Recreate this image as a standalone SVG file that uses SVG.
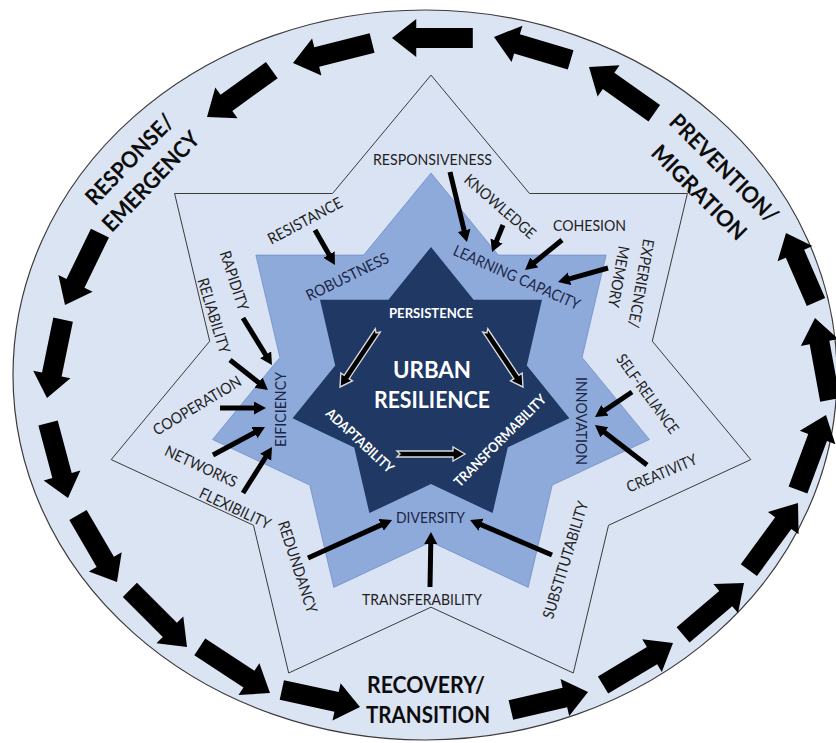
<svg xmlns="http://www.w3.org/2000/svg" xmlns:xlink="http://www.w3.org/1999/xlink" width="836" height="743" viewBox="0 0 836 743">
<style>
.lab{font-family:Lato,"Open Sans","Liberation Sans",sans-serif;font-size:22.5px;font-weight:bold;fill:#0d0d0d;text-anchor:middle}
.w{font-family:Lato,"Open Sans","Liberation Sans",sans-serif;font-size:15.5px;fill:#1f1f1f;text-anchor:middle}
.m{font-family:Lato,"Open Sans","Liberation Sans",sans-serif;font-size:15.5px;fill:#1b2644;text-anchor:middle}
.c{font-family:Lato,"Open Sans","Liberation Sans",sans-serif;font-size:14px;font-weight:bold;fill:#ffffff;text-anchor:middle}
.cb{font-family:Lato,"Open Sans","Liberation Sans",sans-serif;font-size:22px;font-weight:bold;fill:#ffffff;text-anchor:middle}
.blk{fill:#000}
.ia{fill:#000;stroke:#d9d9d9;stroke-width:1.4;stroke-linejoin:miter}
.sa{stroke:#000;stroke-width:5;fill:none;marker-end:url(#ah)}
</style>
<defs>
<path id="ba" d="M-80,-10 H-24 V-19 L0,0 L-24,19 V10 H-80 Z"/>
<path id="ia" d="M-68,-3 H-12 V-7 L0,0 L-12,7 V3 H-68 L-65,0 Z"/>
<marker id="ah" markerUnits="userSpaceOnUse" markerWidth="14" markerHeight="14" refX="2" refY="6.5" orient="auto"><path d="M0,0 L12,6.5 L0,13 Z" fill="#000"/></marker>
</defs>
<rect width="836" height="743" fill="#ffffff"/>
<g id="ring"><ellipse cx="425" cy="375" rx="412" ry="365" fill="#dbe4f2" stroke="#3c3c3c" stroke-width="1.2"/></g>
<g id="star-outer"><polygon points="431,75.1 529.5,193.5 687.4,193.5 652.3,341.2 750.8,459.6 608.5,525.3 573.3,673 431,607.2 288.7,673 253.5,525.3 111.2,459.6 209.7,341.2 174.6,193.5 332.5,193.5" fill="#dae3f3" stroke="#3a3a3a" stroke-width="1"/></g>
<g id="star-middle"><polygon points="431,173 498.3,255.1 606.1,255.1 582.1,357.4 649.4,439.5 552.2,485.1 528.2,587.4 431,541.9 333.8,587.4 309.8,485.1 212.6,439.5 279.9,357.4 255.9,255.1 363.7,255.1" fill="#8eaadb" stroke="#6f8ec8" stroke-width="0.8"/></g>
<g id="star-inner"><polygon points="431,247 473.6,299.7 542,299.7 526.8,365.4 569.4,418.2 507.8,447.4 492.6,513.1 431,483.9 369.4,513.1 354.2,447.4 292.6,418.2 335.2,365.4 320,299.7 388.4,299.7" fill="#1f3864"/></g>
<g id="connectors">
<g id="cycle">
<use xlink:href="#ba" class="blk" transform="translate(392,38) rotate(180) scale(1.01,1)"/>
<use xlink:href="#ba" class="blk" transform="translate(293,63) rotate(165.8) scale(1.02,1)"/>
<use xlink:href="#ba" class="blk" transform="translate(207,117) rotate(144.1)"/>
<use xlink:href="#ba" class="blk" transform="translate(65,305) rotate(115.9)"/>
<use xlink:href="#ba" class="blk" transform="translate(47,398) rotate(101.6)"/>
<use xlink:href="#ba" class="blk" transform="translate(68,498) rotate(75.1) scale(0.97,1)"/>
<use xlink:href="#ba" class="blk" transform="translate(117,582) rotate(59.8) scale(0.97,1)"/>
<use xlink:href="#ba" class="blk" transform="translate(187,647) rotate(45) scale(1.01,1)"/>
<use xlink:href="#ba" class="blk" transform="translate(270,693) rotate(33.3) scale(1.05,1)"/>
<use xlink:href="#ba" class="blk" transform="translate(360,707) rotate(12.3)"/>
<use xlink:href="#ba" class="blk" transform="translate(588,692) rotate(-13.2) scale(0.99,1)"/>
<use xlink:href="#ba" class="blk" transform="translate(673,643) rotate(-31) scale(1.02,1)"/>
<use xlink:href="#ba" class="blk" transform="translate(744,583) rotate(-40.4)"/>
<use xlink:href="#ba" class="blk" transform="translate(798,503) rotate(-53.8) scale(1.04,1)"/>
<use xlink:href="#ba" class="blk" transform="translate(826,415) rotate(-69.5)"/>
<use xlink:href="#ba" class="blk" transform="translate(815,318) rotate(-100.4) scale(1.04,1)"/>
<use xlink:href="#ba" class="blk" transform="translate(786,233) rotate(-113.5) scale(0.94,1)"/>
<use xlink:href="#ba" class="blk" transform="translate(589,67) rotate(-144.7)"/>
<use xlink:href="#ba" class="blk" transform="translate(494,37) rotate(-163.4)"/>
</g>
<g id="inner-arrows">
<use xlink:href="#ia" class="ia" transform="translate(340,387) rotate(123.7)"/>
<use xlink:href="#ia" class="ia" transform="translate(523,387) rotate(56.3)"/>
<use xlink:href="#ia" class="ia" transform="translate(465,454)"/>
</g>
<g id="small-arrows">
<line class="sa" x1="450" y1="172" x2="464.6" y2="232.3"/>
<line class="sa" x1="503" y1="225" x2="495.8" y2="242.8"/>
<line class="sa" x1="562" y1="240" x2="532.8" y2="263.7"/>
<line class="sa" x1="608" y1="268" x2="567.6" y2="279.3"/>
<line class="sa" x1="315" y1="230" x2="330" y2="256.3"/>
<line class="sa" x1="243" y1="318" x2="266.7" y2="356.5"/>
<line class="sa" x1="230" y1="360" x2="260.1" y2="383.8"/>
<line class="sa" x1="220" y1="408" x2="256" y2="408"/>
<line class="sa" x1="213" y1="455" x2="256.2" y2="431.7"/>
<line class="sa" x1="243" y1="493" x2="266.7" y2="455.5"/>
<line class="sa" x1="308" y1="558" x2="382.9" y2="524.1"/>
<line class="sa" x1="430" y1="587" x2="430.8" y2="542"/>
<line class="sa" x1="552" y1="555" x2="479.2" y2="523.9"/>
<line class="sa" x1="632" y1="392" x2="603.3" y2="411.4"/>
<line class="sa" x1="647" y1="465" x2="602.9" y2="431.1"/>
</g>
</g>
<g id="n-response"><text class="lab" transform="translate(135.3,165) rotate(-46)" textLength="116" lengthAdjust="spacingAndGlyphs">RESPONSE/</text><text class="lab" transform="translate(156.5,186.9) rotate(-46)" textLength="129" lengthAdjust="spacingAndGlyphs">EMERGENCY</text></g>
<g id="n-prevention"><text class="lab" transform="translate(718.3,173.9) rotate(45)" textLength="143" lengthAdjust="spacingAndGlyphs">PREVENTION/</text><text class="lab" transform="translate(693.5,198.1) rotate(45)" textLength="124" lengthAdjust="spacingAndGlyphs">MIGRATION</text></g>
<g id="n-recovery"><text class="lab" x="426" y="693" textLength="118" lengthAdjust="spacingAndGlyphs">RECOVERY/</text><text class="lab" x="428" y="723" textLength="124" lengthAdjust="spacingAndGlyphs">TRANSITION</text></g>
<g id="n-responsiveness"><text class="w" x="432.5" y="165" textLength="119" lengthAdjust="spacingAndGlyphs">RESPONSIVENESS</text></g>
<g id="n-knowledge"><text class="w" transform="translate(496.5,210.5) rotate(41)" textLength="89" lengthAdjust="spacingAndGlyphs">KNOWLEDGE</text></g>
<g id="n-cohesion"><text class="w" x="589.5" y="231" textLength="73" lengthAdjust="spacingAndGlyphs">COHESION</text></g>
<g id="n-experience"><text class="w" transform="translate(635.8,282.6) rotate(100)" textLength="90" lengthAdjust="spacingAndGlyphs">EXPERIENCE/</text><text class="w" transform="translate(613.3,275.8) rotate(100)" textLength="62" lengthAdjust="spacingAndGlyphs">MEMORY</text></g>
<g id="n-learning"><text class="m" transform="translate(514.5,282.3) rotate(24)" textLength="137" lengthAdjust="spacingAndGlyphs">LEARNING CAPACITY</text></g>
<g id="n-selfreliance"><text class="w" transform="translate(643.2,397.1) rotate(54)" textLength="94" lengthAdjust="spacingAndGlyphs">SELF-RELIANCE</text></g>
<g id="n-innovation"><text class="m" transform="translate(575.7,421) rotate(90)" textLength="88" lengthAdjust="spacingAndGlyphs">INNOVATION</text></g>
<g id="n-creativity"><text class="w" transform="translate(663.8,478.2) rotate(-23)" textLength="75" lengthAdjust="spacingAndGlyphs">CREATIVITY</text></g>
<g id="n-substitutability"><text class="w" transform="translate(570.6,561.5) rotate(-73)" textLength="122" lengthAdjust="spacingAndGlyphs">SUBSTITUTABILITY</text></g>
<g id="n-diversity"><text class="m" x="430.5" y="523" textLength="69" lengthAdjust="spacingAndGlyphs">DIVERSITY</text></g>
<g id="n-transferability"><text class="w" x="422" y="605" textLength="120" lengthAdjust="spacingAndGlyphs">TRANSFERABILITY</text></g>
<g id="n-redundancy"><text class="w" transform="translate(292.5,568.6) rotate(72)" textLength="96" lengthAdjust="spacingAndGlyphs">REDUNDANCY</text></g>
<g id="n-flexibility"><text class="w" transform="translate(232.8,513.3) rotate(25)" textLength="77" lengthAdjust="spacingAndGlyphs">FLEXIBILITY</text></g>
<g id="n-networks"><text class="w" transform="translate(198.8,471.3) rotate(25)" textLength="78" lengthAdjust="spacingAndGlyphs">NETWORKS</text></g>
<g id="n-cooperation"><text class="w" transform="translate(199.9,410.3) rotate(-31)" textLength="100" lengthAdjust="spacingAndGlyphs">COOPERATION</text></g>
<g id="n-reliability"><text class="w" transform="translate(208.6,317.3) rotate(73)" textLength="78" lengthAdjust="spacingAndGlyphs">RELIABILITY</text></g>
<g id="n-rapidity"><text class="w" transform="translate(229.2,282.4) rotate(72)" textLength="62" lengthAdjust="spacingAndGlyphs">RAPIDITY</text></g>
<g id="n-efficiency"><text class="m" transform="translate(286.3,409.5) rotate(-90)" textLength="75" lengthAdjust="spacingAndGlyphs">EIFICIENCY</text></g>
<g id="n-resistance"><text class="w" transform="translate(307.5,225.5) rotate(-28)" textLength="82" lengthAdjust="spacingAndGlyphs">RESISTANCE</text></g>
<g id="n-robustness"><text class="m" transform="translate(349.8,281.5) rotate(-26)" textLength="90" lengthAdjust="spacingAndGlyphs">ROBUSTNESS</text></g>
<g id="n-persistence"><text class="c" x="431" y="318" textLength="84" lengthAdjust="spacingAndGlyphs">PERSISTENCE</text></g>
<g id="n-urban"><text class="cb" x="432" y="378" textLength="78" lengthAdjust="spacingAndGlyphs">URBAN</text><text class="cb" x="432" y="408" textLength="116" lengthAdjust="spacingAndGlyphs">RESILIENCE</text></g>
<g id="n-adaptability"><text class="c" transform="translate(356.6,444.2) rotate(43)" textLength="87" lengthAdjust="spacingAndGlyphs">ADAPTABILITY</text></g>
<g id="n-transformability"><text class="c" transform="translate(503.5,444) rotate(-45)" textLength="124" lengthAdjust="spacingAndGlyphs">TRANSFORMABILITY</text></g>
</svg>
